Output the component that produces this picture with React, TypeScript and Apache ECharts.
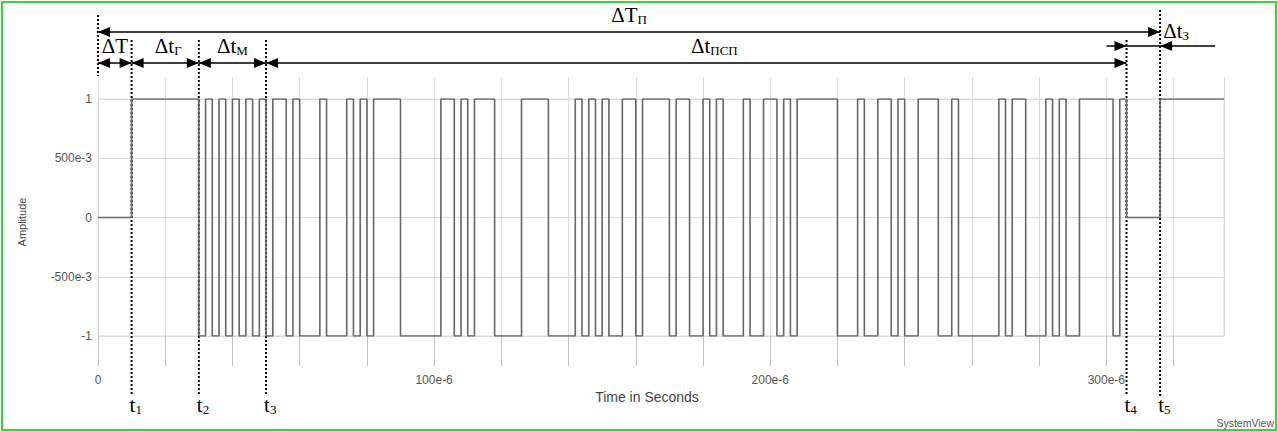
import React, { useEffect, useRef } from "react";
import * as echarts from "echarts";

// Step signal: each level holds from its edge time until the next edge time (µs)
const edgeTimesUs = [
  0, 10, 30, 32, 34, 36, 38, 40, 42, 44, 46, 48, 50, 52, 56, 58, 60, 66, 68, 74,
  76, 78, 80, 82, 90, 102, 106, 108, 110, 112, 118, 126, 134, 142, 144, 146, 148,
  150, 152, 156, 160, 162, 170, 172, 176, 180, 182, 184, 186, 192, 194, 198, 202,
  204, 206, 208, 220, 226, 228, 232, 236, 238, 240, 244, 250, 254, 256, 268, 270,
  272, 276, 282, 284, 286, 288, 292, 302, 304, 306, 316, 335,
];
const edgeLevels = [
  0, 1, -1, 1, -1, 1, -1, 1, -1, 1, -1, 1, -1, 1, -1, 1, -1, 1, -1, 1,
  -1, 1, -1, 1, -1, 1, -1, 1, -1, 1, -1, 1, -1, 1, -1, 1, -1,
  1, -1, 1, -1, 1, -1, 1, -1, 1, -1, 1, -1, 1, -1, 1, -1,
  1, -1, 1, -1, 1, -1, 1, -1, 1, -1, 1, -1, 1, -1, 1, -1,
  1, -1, 1, -1, 1, -1, 1, -1, 1, 0, 1, 1,
];

const xMinUs = 0;
const xMaxUs = 335;
const xStepUs = 20;
const xLabelValues = [0, 100, 200, 300];
const xLabelTexts = ["0", "100e-6", "200e-6", "300e-6"];
const yTickValues = [1, 0.5, 0, -0.5, -1];
const yTickTexts = ["1", "500e-3", "0", "-500e-3", "-1"];

// Annotation boundaries (µs): 0, t1, t2, t3, t4, t5
const boundaryTimesUs = [0, 10, 30, 50, 306, 316];
const boundaryLabels = ["", "1", "2", "3", "4", "5"];
const segmentLabels = [
  { main: "ΔT", sub: "" },
  { main: "Δt", sub: "Г" },
  { main: "Δt", sub: "М" },
  { main: "Δt", sub: "ПСП" },
];
const periodLabel = { main: "ΔT", sub: "П" };
const guardLabel = { main: "Δt", sub: "З" };

const SERIF = "Liberation Serif";
const SANS = "Liberation Sans";

function richText(main: string, sub: string) {
  return sub ? `{m|${main}}{s|${sub}}` : `{m|${main}}`;
}
const richStyles = {
  m: { fontSize: 21, fontFamily: SERIF, lineHeight: 22, fill: "#000", color: "#000" },
  s: { fontSize: 13, fontFamily: SERIF, lineHeight: 9, verticalAlign: "bottom", fill: "#000", color: "#000" },
};

export default function App() {
  const ref = useRef<HTMLDivElement>(null);

  useEffect(() => {
    document.body.style.margin = "0";
    if (!ref.current) return;
    const chart = echarts.init(ref.current, undefined, { renderer: "svg" });

    const data = edgeTimesUs.map((t, i) => [t, edgeLevels[i]]);
    const gridColor = "#dcdcdc";

    chart.setOption({
      animation: false,
      backgroundColor: "#fff",
      grid: {
        left: 98,
        right: 54,
        top: 99,
        bottom: 96,
        show: true,
        borderColor: gridColor,
        borderWidth: 1,
      },
      xAxis: [
        {
          type: "value",
          min: xMinUs,
          max: xMaxUs,
          interval: xStepUs,
          position: "bottom",
          axisLine: { show: true, onZero: false, lineStyle: { color: gridColor } },
          axisTick: { show: true, length: 30, lineStyle: { color: "#c4c4c4" } },
          axisLabel: {
            margin: 38,
            color: "#555",
            fontSize: 12,
            fontFamily: SANS,
            showMaxLabel: false,
            formatter: (v: number) => {
              const i = xLabelValues.indexOf(Math.round(v));
              return i >= 0 ? xLabelTexts[i] : "";
            },
          },
          splitLine: { show: true, lineStyle: { color: gridColor } },
        },
        {
          type: "value",
          min: xMinUs,
          max: xMaxUs,
          interval: xStepUs,
          position: "top",
          axisLine: { show: true, onZero: false, lineStyle: { color: gridColor } },
          axisTick: { show: true, length: 22, lineStyle: { color: "#dedede" } },
          axisLabel: { show: false },
          splitLine: { show: false },
        },
      ],
      yAxis: {
        type: "value",
        min: -1,
        max: 1,
        interval: 0.5,
        axisLine: { show: false },
        axisTick: { show: false },
        axisLabel: {
          margin: 6,
          color: "#555",
          fontSize: 12,
          fontFamily: SANS,
          formatter: (v: number) => {
            const i = yTickValues.findIndex((y) => Math.abs(y - v) < 1e-9);
            return i >= 0 ? yTickTexts[i] : "";
          },
        },
        splitLine: { show: true, lineStyle: { color: gridColor } },
      },
      series: [
        {
          type: "line",
          step: "end",
          showSymbol: false,
          symbol: "none",
          z: 5,
          lineStyle: { color: "#666666", width: 1.6 },
          data,
        },
      ],
    });

    const X = (t: number) => chart.convertToPixel({ xAxisIndex: 0 }, t) as number;
    const bx = boundaryTimesUs.map(X);
    const els: any[] = [];
    const headL = 12;
    const headW = 5;

    const line = (x1: number, y1: number, x2: number, y2: number, dash?: number[], z = 10) =>
      els.push({
        type: "line",
        z,
        silent: true,
        shape: { x1, y1, x2, y2 },
        style: { stroke: "#000", lineWidth: dash ? 2 : 1.6, lineDash: dash },
      });
    const headLeft = (x: number, y: number) =>
      els.push({
        type: "polygon",
        z: 10,
        shape: { points: [[x, y], [x + headL, y - headW], [x + headL, y + headW]] },
        style: { fill: "#000" },
      });
    const headRight = (x: number, y: number) =>
      els.push({
        type: "polygon",
        z: 10,
        shape: { points: [[x, y], [x - headL, y - headW], [x - headL, y + headW]] },
        style: { fill: "#000" },
      });
    const label = (x: number, y: number, main: string, sub: string, align = "center") =>
      els.push({
        type: "text",
        z: 10,
        x,
        y,
        style: {
          text: richText(main, sub),
          rich: richStyles,
          align,
          verticalAlign: "middle",
        },
      });

    // dotted boundary lines (under the signal)
    const dotTop = [15, 40, 40, 40, 40, 10];
    const dotBottom = [76, 396, 396, 396, 396, 396];
    bx.forEach((x, i) => line(x, dotTop[i], x, dotBottom[i], [2, 2], 1));

    // Top period arrow
    const yTop = 32;
    line(bx[0], yTop, bx[5], yTop);
    headLeft(bx[0], yTop);
    headRight(bx[5], yTop);
    label((bx[0] + bx[5]) / 2, 15, periodLabel.main, periodLabel.sub);

    // Second-row segment arrows
    const yRow = 63;
    for (let i = 0; i < 4; i++) {
      const a = bx[i];
      const b = bx[i + 1];
      line(a, yRow, b, yRow);
      headLeft(a, yRow);
      headRight(b, yRow);
      const cx = (a + b) / 2 + (i === 3 ? 18 : i === 1 ? 3 : 0);
      label(cx, 46, segmentLabels[i].main, segmentLabels[i].sub);
    }

    // Guard interval arrows (pointing inward)
    const yG = 46;
    line(bx[4] - 20, yG, bx[5] + 55, yG);
    headRight(bx[4], yG);
    headLeft(bx[5], yG);
    label(bx[5] + 3, 31, guardLabel.main, guardLabel.sub, "left");

    // bottom t labels
    for (let i = 1; i < bx.length; i++) {
      label(bx[i] - 2, 405, "t", boundaryLabels[i], "left");
    }

    // Axis titles and watermark
    els.push({
      type: "text",
      x: 647,
      y: 397,
      z: 10,
      style: { text: "Time in Seconds", fill: "#444", font: `14px ${SANS}`, align: "center", verticalAlign: "middle" },
    });
    els.push({
      type: "text",
      x: 22,
      y: 222,
      z: 10,
      rotation: Math.PI / 2,
      style: { text: "Amplitude", fill: "#444", font: `11px ${SANS}`, align: "center", verticalAlign: "middle" },
    });
    els.push({
      type: "text",
      x: 1274,
      y: 423,
      z: 10,
      style: { text: "SystemView", fill: "#555", font: `10.5px ${SANS}`, align: "right", verticalAlign: "middle" },
    });
    // green frame
    els.push({
      type: "rect",
      z: 10,
      shape: { x: 2, y: 2, width: 1274, height: 428 },
      style: { fill: "none", stroke: "#35d935", lineWidth: 2 },
    });

    chart.setOption({ graphic: { elements: els } });

    return () => chart.dispose();
  }, []);

  return (
    <div
      ref={ref}
      style={{ position: "absolute", left: 0, top: 0, width: 1278, height: 432 }}
    />
  );
}
